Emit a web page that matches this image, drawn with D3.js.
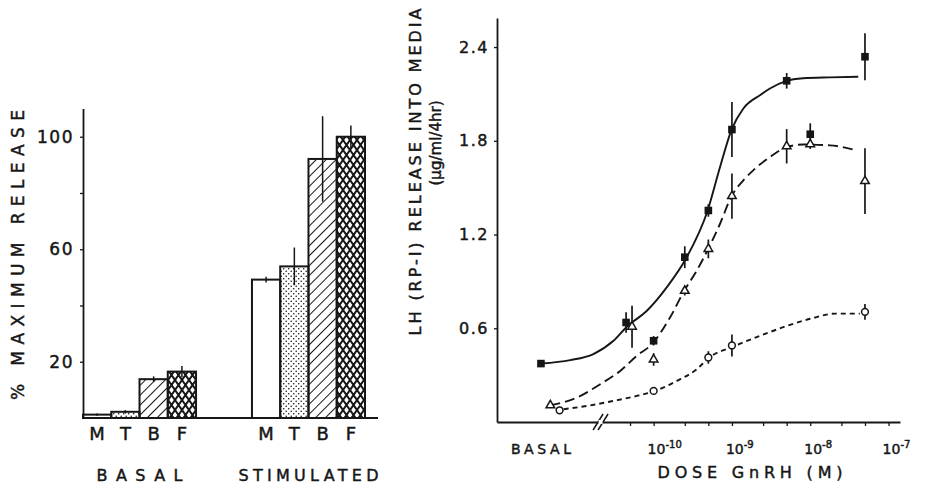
<!DOCTYPE html>
<html>
<head>
<meta charset="utf-8">
<script src="https://cdn.jsdelivr.net/npm/d3@7"></script>
<style>
  body { margin: 0; background: #fff; }
  svg { display: block; }
  text { font-family: "DejaVu Sans", "Liberation Sans", sans-serif; fill: #161616; stroke: #161616; stroke-width: 0.45px; }
</style>
</head>
<body>
<div id="chart"></div>
<script>
// ---- left panel: % maximum release by tissue ----
const groups = ["BASAL", "STIMULATED"];
const tissues = ["M", "T", "B", "F"];
const basalRelease = [1.2, 2.2, 13.8, 16.5];
const basalErr = [0.4, 0.6, 1.0, 2.0];
const stimRelease = [49.2, 53.9, 92.1, 100];
const stimErr = [1.0, 6.7, 15.2, 4.0];
const pctTicks = [20, 40, 60, 80, 100];
const pctLabels = [20, 60, 100];

// ---- right panel: LH release vs GnRH dose ----
const lhTicks = [0.6, 1.2, 1.8, 2.4];
const decadeTicks = [1e-10, 1e-9, 1e-8, 1e-7];
const decadeExp = ["-10", "-9", "-8", "-7"];
const doseTicks = [5e-11, 1e-10, 2.5e-10, 5e-10, 1e-9, 2.5e-9, 5e-9, 1e-8, 2.5e-8, 5e-8, 1e-7];
const basalDose = 3.64e-12;   // where the BASAL label sits
const breakDose = 2.1e-11;    // axis break

// filled squares (solid curve)
const sqDose = [3.64e-12, 4.45e-11, 1e-10, 2.5e-10, 5e-10, 1e-9, 5e-9, 1e-8, 5e-8];
const sqLH = [0.374, 0.637, 0.52, 1.055, 1.354, 1.872, 2.184, 1.842, 2.338];
const sqErr = [0, 0.065, 0.03, 0.07, 0.04, 0.176, 0.05, 0.07, 0.15];
// open triangles (long dashes)
const triDose = [4.8e-12, 5.3e-11, 1e-10, 2.5e-10, 5e-10, 1e-9, 5e-9, 1e-8, 5e-8];
const triLH = [0.107, 0.61, 0.40, 0.84, 1.108, 1.446, 1.765, 1.778, 1.542];
const triErr = [0, 0.134, 0.04, 0.03, 0.06, 0.145, 0.11, 0.03, 0.21];
// open circles (short dashes)
const circDose = [6.3e-12, 1e-10, 5e-10, 1e-9, 5e-8];
const circLH = [0.075, 0.199, 0.413, 0.49, 0.705];
const circErr = [0, 0, 0.04, 0.07, 0.05];

// fitted curves
const solidDose = [3.64e-12, 8.6e-12, 1.7e-11, 3.07e-11, 4.55e-11, 8.2e-11, 1.47e-10, 2.6e-10, 4.9e-10, 7.05e-10, 9.9e-10, 1.4e-9, 2.28e-9, 3.06e-9, 5e-9, 8.1e-9, 1.78e-8, 4.1e-8];
const solidLH = [0.374, 0.396, 0.435, 0.52, 0.61, 0.712, 0.862, 1.048, 1.354, 1.632, 1.872, 2.007, 2.092, 2.135, 2.184, 2.2, 2.206, 2.21];
const longDose = [4.8e-12, 1.05e-11, 2.08e-11, 3.74e-11, 6.1e-11, 9.5e-11, 1.62e-10, 2.52e-10, 3.38e-10, 4.97e-10, 7.05e-10, 9.9e-10, 1.4e-9, 1.87e-9, 3.06e-9, 5e-9, 8.1e-9, 1.78e-8, 3.9e-8];
const longLH = [0.107, 0.156, 0.242, 0.327, 0.424, 0.499, 0.669, 0.85, 0.95, 1.108, 1.269, 1.446, 1.547, 1.611, 1.696, 1.76, 1.776, 1.771, 1.739];
const shortDose = [7.1e-12, 1.41e-11, 3.07e-11, 6.1e-11, 1.04e-10, 1.98e-10, 3.56e-10, 5.15e-10, 1.01e-9, 2.64e-9, 1.01e-8, 2.1e-8, 4.3e-8];
const shortLH = [0.082, 0.103, 0.135, 0.167, 0.199, 0.263, 0.338, 0.413, 0.48, 0.564, 0.661, 0.694, 0.694];

const ink = "#161616";
const W = 928, H = 491;

const svg = d3.select("#chart").append("svg")
  .attr("width", W).attr("height", H);

// fill patterns for the bars
const defs = svg.append("defs");
const dots = defs.append("pattern").attr("id", "dots")
  .attr("patternUnits", "userSpaceOnUse").attr("width", 5).attr("height", 5);
dots.append("circle").attr("cx", 1.2).attr("cy", 1.2).attr("r", 0.8).attr("fill", ink);
dots.append("circle").attr("cx", 3.7).attr("cy", 3.7).attr("r", 0.8).attr("fill", ink);

const diag = defs.append("pattern").attr("id", "diag")
  .attr("patternUnits", "userSpaceOnUse").attr("width", 7).attr("height", 7)
  .attr("patternTransform", "rotate(45)");
diag.append("line").attr("x1", 0).attr("y1", 0).attr("x2", 0).attr("y2", 7)
  .attr("stroke", ink).attr("stroke-width", 2);

const cross = defs.append("pattern").attr("id", "cross")
  .attr("patternUnits", "userSpaceOnUse").attr("width", 7).attr("height", 10);
cross.append("path").attr("d", "M0,0 L7,10 M7,0 L0,10")
  .attr("stroke", ink).attr("stroke-width", 2).attr("fill", "none");

const fills = ["#fff", "url(#dots)", "url(#diag)", "url(#cross)"];

// ================= left panel =================
const yPct = d3.scaleLinear().domain([0, 110]).range([418, 108.6]);
const xGroup = d3.scaleBand().domain(groups).range([83, 365]).paddingInner(0.331).paddingOuter(0);
const xTissue = d3.scaleBand().domain(tissues).range([0, xGroup.bandwidth()]).padding(0);

const left = svg.append("g");

const barData = [];
groups.forEach((g, gi) => {
  const vals = gi === 0 ? basalRelease : stimRelease;
  const errs = gi === 0 ? basalErr : stimErr;
  tissues.forEach((t, ti) => barData.push({ g: g, t: t, v: vals[ti], e: errs[ti], fill: fills[ti] }));
});

left.selectAll("rect.bar")
  .data(barData)
  .enter()
  .append("rect")
  .attr("class", "bar")
  .attr("x", d => xGroup(d.g) + xTissue(d.t))
  .attr("y", d => yPct(d.v))
  .attr("width", xTissue.bandwidth())
  .attr("height", d => yPct(0) - yPct(d.v))
  .attr("fill", d => d.fill)
  .attr("stroke", ink)
  .attr("stroke-width", 2);

left.selectAll("line.err")
  .data(barData)
  .enter()
  .append("line")
  .attr("class", "err")
  .attr("x1", d => xGroup(d.g) + xTissue(d.t) + xTissue.bandwidth() / 2)
  .attr("x2", d => xGroup(d.g) + xTissue(d.t) + xTissue.bandwidth() / 2)
  .attr("y1", d => yPct(d.v - d.e))
  .attr("y2", d => yPct(d.v + d.e))
  .attr("stroke", ink)
  .attr("stroke-width", 1.5);

// y axis
left.append("g")
  .attr("transform", `translate(${xGroup.range()[0]},0)`)
  .call(d3.axisLeft(yPct).tickValues(pctTicks).tickSize(3).tickSizeOuter(0)
    .tickFormat(d => pctLabels.includes(d) ? d : ""))
  .call(g => {
    g.select(".domain").attr("stroke", ink).attr("stroke-width", 1.8);
    g.selectAll(".tick line").attr("stroke", ink).attr("stroke-width", 1.3);
    g.selectAll(".tick text").attr("font-size", 17).attr("letter-spacing", 1.5)
      .attr("fill", ink).attr("x", -9).attr("font-family", "DejaVu Sans");
  });

// baseline
left.append("line")
  .attr("x1", xGroup.range()[0]).attr("x2", 378)
  .attr("y1", yPct(0)).attr("y2", yPct(0))
  .attr("stroke", ink).attr("stroke-width", 2);

// tissue letters
left.selectAll("text.tissue")
  .data(barData)
  .enter()
  .append("text")
  .attr("class", "tissue")
  .attr("x", d => xGroup(d.g) + xTissue(d.t) + xTissue.bandwidth() / 2)
  .attr("y", 440)
  .attr("text-anchor", "middle")
  .attr("font-size", 18)
  .text(d => d.t);

// group labels
left.selectAll("text.group")
  .data(groups)
  .enter()
  .append("text")
  .attr("class", "group")
  .attr("x", d => xGroup(d) + xGroup.bandwidth() / 2)
  .attr("y", 481)
  .attr("text-anchor", "middle")
  .attr("font-size", 16)
  .attr("textLength", d => d === "BASAL" ? 86 : 140)
  .attr("lengthAdjust", "spacing")
  .text(d => d);

left.append("text")
  .attr("transform", "translate(18,255) rotate(-90)")
  .attr("dy", "0.35em")
  .attr("text-anchor", "middle")
  .attr("font-size", 17)
  .attr("textLength", 290)
  .attr("lengthAdjust", "spacing")
  .text("% MAXIMUM  RELEASE");

// ================= right panel =================
const xDose = d3.scaleLog().domain([1e-12, 1.4e-7]).range([497, 900]);
const yLH = d3.scaleLinear().domain([0, 2.586]).range([422, 18]);

const right = svg.append("g");

// curves
const line = d3.line().x(d => xDose(d[0])).y(d => yLH(d[1])).curve(d3.curveMonotoneX);
const curves = [
  { dose: solidDose, lh: solidLH, dash: null },
  { dose: longDose, lh: longLH, dash: "10,5" },
  { dose: shortDose, lh: shortLH, dash: "5,4" }
];
curves.forEach(c => {
  right.append("path")
    .datum(d3.zip(c.dose, c.lh))
    .attr("d", line)
    .attr("fill", "none")
    .attr("stroke", ink)
    .attr("stroke-width", 1.9)
    .attr("stroke-dasharray", c.dash);
});

// error bars
function errorBars(doses, vals, errs) {
  right.selectAll(null)
    .data(d3.zip(doses, vals, errs).filter(d => d[2] > 0))
    .enter()
    .append("line")
    .attr("x1", d => xDose(d[0])).attr("x2", d => xDose(d[0]))
    .attr("y1", d => yLH(d[1] - d[2])).attr("y2", d => yLH(d[1] + d[2]))
    .attr("stroke", ink).attr("stroke-width", 1.7);
}
errorBars(sqDose, sqLH, sqErr);
errorBars(triDose, triLH, triErr);
errorBars(circDose, circLH, circErr);

// markers
right.selectAll("rect.sq")
  .data(d3.zip(sqDose, sqLH))
  .enter()
  .append("rect")
  .attr("class", "sq")
  .attr("x", d => xDose(d[0]) - 3.8)
  .attr("y", d => yLH(d[1]) - 3.8)
  .attr("width", 7.6).attr("height", 7.6)
  .attr("fill", ink);

right.selectAll("path.tri")
  .data(d3.zip(triDose, triLH))
  .enter()
  .append("path")
  .attr("class", "tri")
  .attr("transform", d => `translate(${xDose(d[0])},${yLH(d[1])})`)
  .attr("d", d3.symbol(d3.symbolTriangle, 32))
  .attr("fill", "#fff")
  .attr("stroke", ink)
  .attr("stroke-width", 1.5);

right.selectAll("circle.circ")
  .data(d3.zip(circDose, circLH))
  .enter()
  .append("circle")
  .attr("class", "circ")
  .attr("cx", d => xDose(d[0]))
  .attr("cy", d => yLH(d[1]))
  .attr("r", 3.4)
  .attr("fill", "#fff")
  .attr("stroke", ink)
  .attr("stroke-width", 1.5);

// y axis
right.append("g")
  .attr("transform", `translate(${xDose.range()[0]},0)`)
  .call(d3.axisLeft(yLH).tickValues(lhTicks).tickSize(3).tickSizeOuter(0)
    .tickFormat(d3.format(".1f")))
  .call(g => {
    g.select(".domain").attr("stroke", ink).attr("stroke-width", 1.8);
    g.selectAll(".tick line").attr("stroke", ink).attr("stroke-width", 1.3);
    g.selectAll(".tick text").attr("font-size", 16).attr("letter-spacing", 1.5)
      .attr("fill", ink).attr("x", -8).attr("font-family", "DejaVu Sans");
  });

// x axis
right.append("g")
  .attr("transform", `translate(0,${yLH(0)})`)
  .call(d3.axisBottom(xDose).tickValues(doseTicks).tickSize(4).tickSizeOuter(0)
    .tickFormat(""))
  .call(g => {
    g.select(".domain").attr("stroke", ink).attr("stroke-width", 1.8);
    g.selectAll(".tick line").attr("stroke", ink).attr("stroke-width", 1.3);
  });

// axis break
const bx = xDose(breakDose), by = yLH(0);
[-2.5, 2.5].forEach(o => {
  right.append("line")
    .attr("x1", bx + o - 5).attr("y1", by + 8)
    .attr("x2", bx + o + 5).attr("y2", by - 8)
    .attr("stroke", ink).attr("stroke-width", 1.5);
});
right.append("rect")
  .attr("x", bx - 2).attr("y", by - 2).attr("width", 4).attr("height", 4)
  .attr("fill", "#fff");

// decade labels
const decLabels = right.selectAll("text.dec")
  .data(d3.zip(decadeTicks, decadeExp))
  .enter()
  .append("text")
  .attr("class", "dec")
  .attr("x", d => xDose(d[0]) - 6)
  .attr("y", 454)
  .attr("font-size", 14);
decLabels.append("tspan").text("10");
decLabels.append("tspan").attr("dy", -6).attr("font-size", 10).text(d => d[1]);

right.append("text")
  .attr("x", xDose(basalDose))
  .attr("y", 454)
  .attr("text-anchor", "middle")
  .attr("font-size", 14)
  .attr("textLength", 60)
  .attr("lengthAdjust", "spacing")
  .text("BASAL");

right.append("text")
  .attr("x", 750)
  .attr("y", 478)
  .attr("text-anchor", "middle")
  .attr("font-size", 16)
  .attr("textLength", 185)
  .attr("lengthAdjust", "spacing")
  .text("DOSE  GnRH  (M)");

right.append("text")
  .attr("transform", "translate(415,172) rotate(-90)")
  .attr("dy", "0.35em")
  .attr("text-anchor", "middle")
  .attr("font-size", 16)
  .attr("textLength", 327)
  .attr("lengthAdjust", "spacing")
  .text("LH (RP-I)  RELEASE  INTO  MEDIA");

right.append("text")
  .attr("transform", "translate(436,143) rotate(-90)")
  .attr("dy", "0.35em")
  .attr("text-anchor", "middle")
  .attr("font-size", 15)
  .attr("textLength", 85)
  .attr("lengthAdjust", "spacing")
  .text("(µg/ml/4hr)");
</script>
</body>
</html>
